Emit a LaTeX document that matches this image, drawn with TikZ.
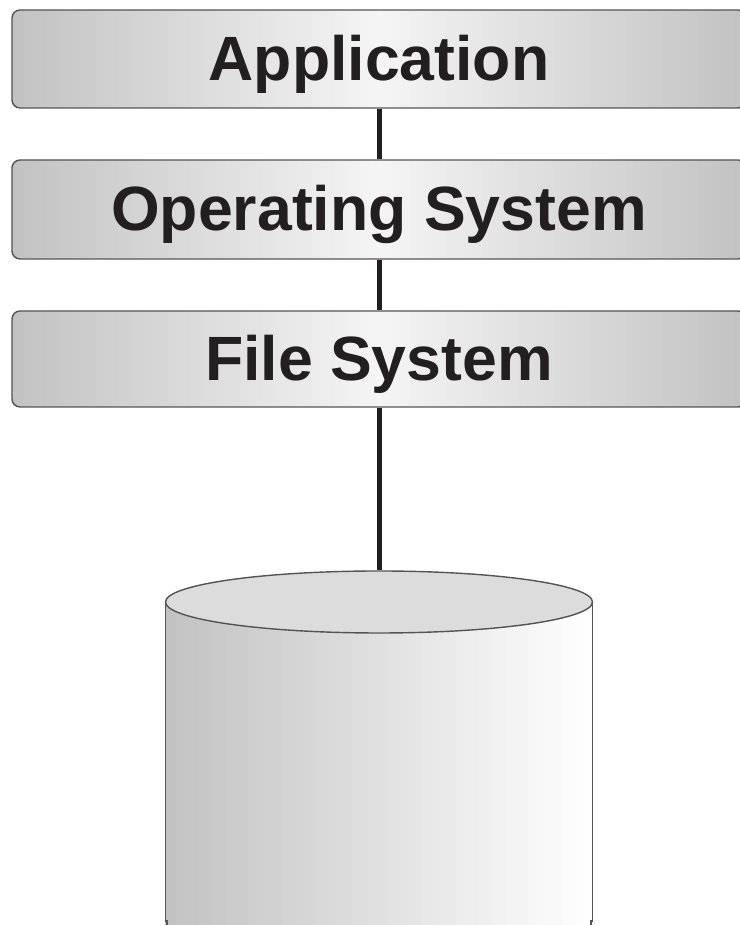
\documentclass[tikz,border=0pt]{standalone}
\usepackage{fontspec}
\setmainfont{Liberation Sans}
\usetikzlibrary{shapes.geometric}
\usepackage{xcolor}
\definecolor{inkblack}{rgb}{0.137, 0.122, 0.125}
\definecolor{edgegray}{rgb}{0.33, 0.33, 0.33}
\definecolor{sidegray}{rgb}{0.76, 0.76, 0.76}
\definecolor{lidgray}{rgb}{0.863, 0.863, 0.863}

\begin{document}
\begin{tikzpicture}[
	layerbox/.style={draw=edgegray,line width=0.4pt,rounded corners=0.08cm,minimum width=7.34cm,inner sep=0pt,
		left color=sidegray,right color=sidegray,middle color=white!96!black,text=inkblack,
		font=\fontsize{17.8}{20}\selectfont\bfseries,text height=12pt,text depth=0pt},
	link/.style={inkblack,line width=0.05cm}
	]
	\useasboundingbox (0,0) rectangle (7.4,9.25);
	\clip (0,0) rectangle (7.4,9.25);

	% Draw the layers.
	\node (application) at (3.79,8.66) [layerbox,minimum height=0.98cm] {Application};
	\node (opsystem) at (3.79,7.155) [layerbox,minimum height=0.99cm] {Operating System};
	\node (filesystem) at (3.79,5.66) [layerbox,minimum height=0.96cm] {File System};

	% Draw the disk.
	\shade [left color=sidegray,right color=white] (1.65,0) rectangle (5.93,3.23);
	\draw [edgegray,line width=0.4pt] (1.655,3.23)--(1.655,0.04)--(1.67,0.04)--(1.67,0);
	\draw [edgegray,line width=0.4pt] (5.925,3.23)--(5.925,0.04)--(5.91,0.04)--(5.91,0);
	\node (disktop) at (3.79,3.23) [ellipse,draw=edgegray,line width=0.4pt,fill=lidgray,minimum width=4.27cm,minimum height=0.62cm,inner sep=0pt] {};

	\draw [link] (application)--(opsystem);
	\draw [link] (opsystem)--(filesystem);
	\draw [link] (filesystem)--(disktop);
\end{tikzpicture}
\end{document}
